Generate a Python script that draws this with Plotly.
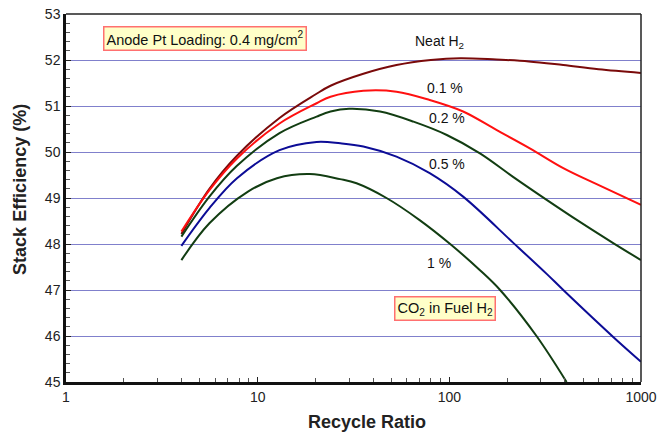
import numpy as np
import plotly.graph_objects as go

# Recycle ratio (x) and stack efficiency (%) for each CO2 level in the fuel
neat_x = [4, 5.6, 7.8, 13, 20, 24, 35.6, 53, 80, 114, 176, 260, 393, 600, 1000]
neat_y = [48.22, 49.2, 49.92, 50.74, 51.25, 51.44, 51.70, 51.89, 52.0, 52.04, 52.01, 51.97, 51.89, 51.80, 51.72]

co2_01_x = [4, 5.6, 7.8, 13, 20.3, 24, 35.6, 53, 79, 118, 176, 263, 393, 587, 1000]
co2_01_y = [48.27, 49.17, 49.86, 50.62, 51.06, 51.20, 51.33, 51.31, 51.13, 50.88, 50.48, 50.08, 49.65, 49.30, 48.85]

co2_02_x = [4, 5.6, 7.8, 13, 20.3, 24, 30, 43.5, 65, 97, 144.5, 215, 322, 480, 716, 1000]
co2_02_y = [48.16, 49.03, 49.70, 50.41, 50.77, 50.88, 50.94, 50.88, 50.66, 50.37, 49.97, 49.46, 48.96, 48.48, 48.02, 47.65]

co2_05_x = [4, 5.6, 7.8, 13, 20.3, 27, 35.6, 53, 79, 118, 215, 322, 393, 716, 1000]
co2_05_y = [47.96, 48.78, 49.43, 50.04, 50.22, 50.19, 50.12, 49.90, 49.54, 49.03, 48.03, 47.35, 47.0, 45.98, 45.44]

co2_1_x = [4, 5.6, 8.9, 12.6, 18.7, 26.9, 32.8, 47, 70, 101, 144.5, 184, 285, 409]
co2_1_y = [47.65, 48.45, 49.14, 49.43, 49.52, 49.41, 49.32, 49.0, 48.52, 48.0, 47.43, 47.0, 46.0, 45.0]

y_ticks = [45, 46, 47, 48, 49, 50, 51, 52, 53]
x_ticks = [1, 10, 100, 1000]

FONT = "Arial, Liberation Sans, sans-serif"

series = [
    (neat_x, neat_y, "#7a0a0a"),
    (co2_01_x, co2_01_y, "#ff1010"),
    (co2_02_x, co2_02_y, "#123d12"),
    (co2_05_x, co2_05_y, "#0c0c96"),
    (co2_1_x, co2_1_y, "#123d12"),
]

fig = go.Figure()
for xs, ys, color in series:
    fig.add_trace(go.Scatter(
        x=xs, y=ys, mode="lines",
        line=dict(color=color, width=2, shape="spline", smoothing=1.0),
        showlegend=False, hoverinfo="skip",
    ))

# Curve labels
labels = [
    ("Neat H<sub>2</sub>", 89, 52.39),
    ("0.1 %", 95, 51.39),
    ("0.2 %", 97, 50.75),
    ("0.5 %", 97, 49.75),
    ("1 %", 88.6, 47.58),
]
for text, lx, ly in labels:
    fig.add_annotation(x=np.log10(lx), y=ly, text=text, showarrow=False,
                       font=dict(family=FONT, size=14, color="#111111"))

# Boxed notes
for text, bx, by in [
    ("Anode Pt Loading: 0.4 mg/cm<sup>2</sup>", 5.31, 52.47),
    ("CO<sub>2</sub> in Fuel H<sub>2</sub>", 95, 46.59),
]:
    fig.add_annotation(x=np.log10(bx), y=by, text=text, showarrow=False,
                       font=dict(family=FONT, size=14.5, color="#111111"),
                       bgcolor="#ffffc8", bordercolor="#ff7070",
                       borderwidth=1.5, borderpad=2)

# Axis titles
fig.add_annotation(xref="paper", yref="paper", x=0.523, y=-0.108,
                   text="<b>Recycle Ratio</b>", showarrow=False,
                   xanchor="center", yanchor="middle",
                   font=dict(family=FONT, size=18, color="#222222"))
fig.add_annotation(xref="paper", yref="paper", x=-0.08, y=0.522,
                   text="<b>Stack Efficiency (%)</b>", showarrow=False,
                   textangle=-90, xanchor="center", yanchor="middle",
                   font=dict(family=FONT, size=18, color="#222222"))

# Thin frame on the top and right edges
fig.add_shape(type="line", xref="paper", yref="paper", x0=0, x1=1, y0=1, y1=1,
              line=dict(color="#222222", width=1.5))
fig.add_shape(type="line", xref="paper", yref="paper", x0=1, x1=1, y0=0, y1=1,
              line=dict(color="#222222", width=1.5))

fig.update_layout(
    width=659, height=437,
    margin=dict(l=66, r=18, t=14, b=55),
    paper_bgcolor="white", plot_bgcolor="white",
    font=dict(family=FONT, size=14, color="#222222"),
    xaxis=dict(
        type="log", range=[0, 3], automargin=False,
        tickvals=x_ticks, ticktext=[str(v) for v in x_ticks],
        ticks="inside", ticklen=5, tickcolor="#222222",
        showline=True, linecolor="#111111", linewidth=2.5,
        showgrid=False, zeroline=False,
        minor=dict(ticks="inside", ticklen=4, tickcolor="#555555", dtick="D1", showgrid=False),
        tickfont=dict(size=14),
    ),
    yaxis=dict(
        range=[45, 53], automargin=False,
        tickvals=y_ticks,
        ticks="inside", ticklen=5, tickcolor="#222222",
        showline=True, linecolor="#111111", linewidth=2.5,
        showgrid=True, gridcolor="#8080cc", gridwidth=1.2,
        zeroline=False,
        minor=dict(ticks="inside", ticklen=4, tickcolor="#555555", dtick=0.2, showgrid=False),
        tickfont=dict(size=14),
    ),
)

fig.write_html("out.html")
